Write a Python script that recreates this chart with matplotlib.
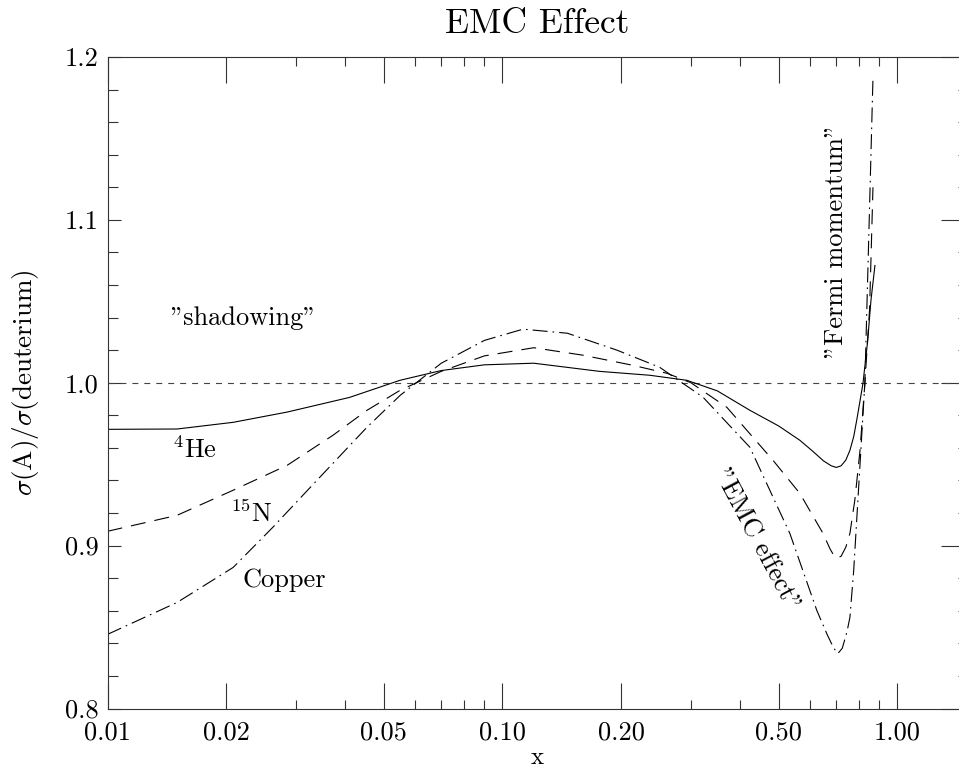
import numpy as np
import matplotlib
matplotlib.use("Agg")
import matplotlib.pyplot as plt
from matplotlib.ticker import FixedLocator, NullFormatter

plt.rcParams["font.family"] = ["cmr10", "DejaVu Serif"]
plt.rcParams["mathtext.fontset"] = "cm"
plt.rcParams["axes.formatter.use_mathtext"] = True
plt.rcParams["lines.scale_dashes"] = False

# ratio sigma(A)/sigma(D) read along x for each nucleus
he4_x = [0.01, 0.015, 0.0208, 0.0285, 0.041, 0.055, 0.07, 0.09, 0.12, 0.176,
         0.236, 0.293, 0.35, 0.423, 0.50, 0.566, 0.61, 0.65, 0.68, 0.70,
         0.72, 0.74, 0.758, 0.775, 0.79, 0.818, 0.84, 0.857, 0.877]
he4_y = [0.9714, 0.9716, 0.9757, 0.982, 0.991, 1.0015, 1.0075, 1.011, 1.012,
         1.007, 1.0046, 1.0015, 0.995, 0.9831, 0.9735, 0.9647, 0.958, 0.952,
         0.949, 0.948, 0.949, 0.9525, 0.9585, 0.967, 0.978, 0.9997, 1.025,
         1.0507, 1.072]

n15_x = [0.01, 0.015, 0.0208, 0.0285, 0.0372, 0.0454, 0.0551, 0.07, 0.09,
         0.12, 0.16, 0.214, 0.261, 0.30, 0.37, 0.484, 0.566, 0.648, 0.675,
         0.69, 0.703, 0.72, 0.74, 0.758, 0.78, 0.804, 0.827, 0.85, 0.867]
n15_y = [0.9088, 0.9186, 0.934, 0.9493, 0.9677, 0.9831, 0.9954, 1.007, 1.0165,
         1.0215, 1.0169, 1.0107, 1.0058, 1.0, 0.9849, 0.9524, 0.9321, 0.9075,
         0.898, 0.894, 0.8922, 0.8935, 0.899, 0.9075, 0.928, 0.9585, 0.9997,
         1.045, 1.12]

cu_x = [0.01, 0.015, 0.0208, 0.0262, 0.0339, 0.0454, 0.0551, 0.07, 0.09,
        0.1127, 0.146, 0.195, 0.25, 0.322, 0.423, 0.534, 0.625, 0.665, 0.69,
        0.707, 0.725, 0.745, 0.758, 0.775, 0.794, 0.827, 0.847, 0.867]
cu_y = [0.8455, 0.8651, 0.8866, 0.9112, 0.9401, 0.9727, 0.9923, 1.012, 1.026,
        1.0329, 1.0304, 1.020, 1.0095, 0.9911, 0.9604, 0.9075, 0.8602, 0.845,
        0.837, 0.8338, 0.837, 0.847, 0.856, 0.885, 0.9278, 1.0, 1.094, 1.187]

x_major = [0.01, 0.02, 0.05, 0.10, 0.20, 0.50, 1.00]
x_major_labels = ["0.01", "0.02", "0.05", "0.10", "0.20", "0.50", "1.00"]
x_minor = [0.03, 0.04, 0.06, 0.07, 0.08, 0.09, 0.3, 0.4, 0.6, 0.7, 0.8, 0.9]
y_major = [0.8, 0.9, 1.0, 1.1, 1.2]
y_major_labels = ["0.8", "0.9", "1.0", "1.1", "1.2"]
y_minor = np.arange(0.8, 1.2001, 0.02)

fig = plt.figure(figsize=(9.59, 7.71), dpi=100)
ax = fig.add_axes([107.5 / 959, 1 - 708.5 / 771, (967 - 107.5) / 959,
                   (708.5 - 57) / 771])
ax.set_xscale("log")
ax.set_xlim(0.01, 1.5)
ax.set_ylim(0.8, 1.2)

ax.axhline(1.0, color="#444444", lw=0.8, dashes=(4.3, 4.3))
ax.plot(he4_x, he4_y, color="black", lw=0.8, ls="-")
ax.plot(n15_x, n15_y, color="black", lw=0.8, dashes=(10.8, 6.5))
ax.plot(cu_x, cu_y, color="black", lw=0.8, dashes=(10.8, 3.6, 1.2, 3.6))

ax.xaxis.set_major_locator(FixedLocator(x_major))
ax.set_xticklabels(x_major_labels)
ax.xaxis.set_minor_locator(FixedLocator(x_minor))
ax.xaxis.set_minor_formatter(NullFormatter())
ax.yaxis.set_major_locator(FixedLocator(y_major))
ax.set_yticklabels(y_major_labels)
ax.yaxis.set_minor_locator(FixedLocator(y_minor))

ax.tick_params(axis="both", which="both", direction="in", color="#333333",
               width=0.8, labelsize=19, top=True, right=False)
ax.tick_params(axis="x", which="major", length=18.7, pad=9)
ax.tick_params(axis="x", which="minor", length=6.5)
ax.tick_params(axis="y", which="major", length=9.4, pad=6.5)
ax.tick_params(axis="y", which="minor", length=7.2)

right = ax.secondary_yaxis("right")
right.yaxis.set_major_locator(FixedLocator(y_major))
right.yaxis.set_minor_locator(FixedLocator(y_minor))
right.tick_params(axis="y", which="both", direction="in", color="#333333",
                  width=0.8, labelright=False)
right.tick_params(axis="y", which="major", length=18.7)
right.tick_params(axis="y", which="minor", length=6.5)

for side in ax.spines.values():
    side.set_color("#333333")
    side.set_linewidth(0.8)

ax.set_title("EMC Effect", fontsize=25.5, pad=17)
fig.text(537.5 / 959, 1 - 764 / 771, "x", fontsize=18, ha="center",
         va="baseline")
ax.set_ylabel(r"$\sigma$(A)/$\sigma$(deuterium)", fontsize=19.5, labelpad=17)

ax.text(0.01437, 1.0353, '"shadowing"', fontsize=19, ha="left", va="baseline")
ax.text(0.01457, 0.9536, r"$^{4}$He", fontsize=19, ha="left", va="baseline")
ax.text(0.0204, 0.9143, r"$^{15}$N", fontsize=19, ha="left", va="baseline")
ax.text(0.0220, 0.8743, "Copper", fontsize=19, ha="left", va="baseline")
ax.text(0.441, 0.9032, '"EMC effect"', fontsize=19, rotation=-62,
        rotation_mode="anchor", ha="center", va="center")
ax.text(0.6987, 1.087, '"Fermi momentum"', fontsize=19, rotation=90,
        ha="center", va="center")

fig.savefig("out.png", dpi=100)
